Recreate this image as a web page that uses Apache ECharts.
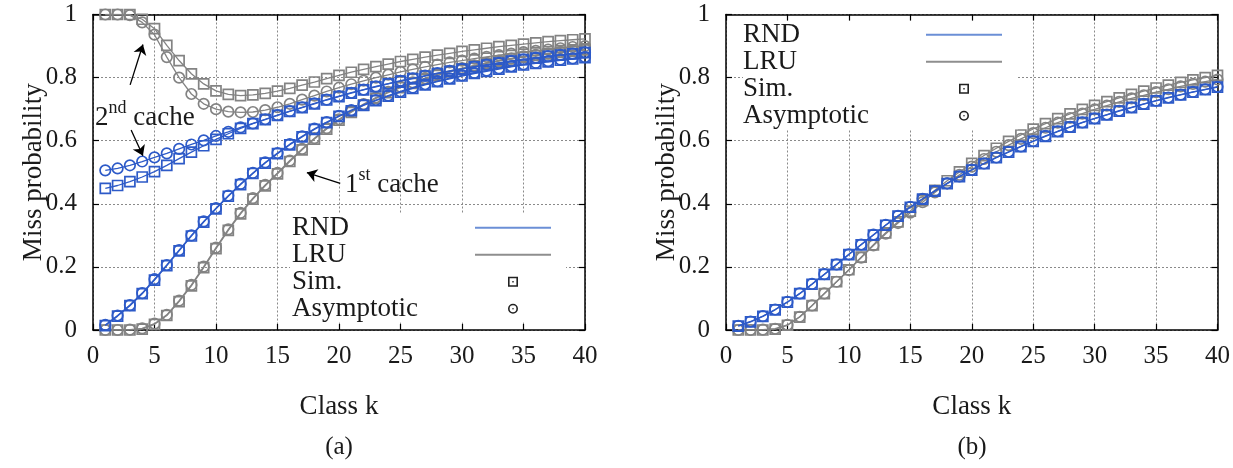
<!DOCTYPE html>
<html><head><meta charset="utf-8">
<script src="https://cdn.jsdelivr.net/npm/echarts@6/dist/echarts.min.js"></script>
<style>html,body{margin:0;padding:0;background:#fff}#c{width:1233px;height:468px}</style>
</head><body><div id="c"></div>
<script>
// ---------------- data ----------------
const classK = [1,2,3,4,5,6,7,8,9,10,11,12,13,14,15,16,17,18,19,20,21,22,23,24,25,26,27,28,29,30,31,32,33,34,35,36,37,38,39,40];
const xTickLabels = ['0','5','10','15','20','25','30','35','40'];
const yTickLabels = ['0','0.2','0.4','0.6','0.8','1'];

// Panel (a): first and second cache
const rnd1Sim  = [0.014,0.044,0.077,0.115,0.158,0.204,0.251,0.298,0.342,0.384,0.424,0.461,0.496,0.529,0.559,0.587,0.612,0.636,0.657,0.677,0.695,0.712,0.727,0.741,0.754,0.766,0.777,0.787,0.796,0.805,0.813,0.820,0.827,0.834,0.840,0.845,0.850,0.855,0.859,0.863];
const rnd1Asym = [0.016,0.046,0.079,0.117,0.161,0.206,0.253,0.300,0.344,0.386,0.426,0.463,0.498,0.531,0.561,0.589,0.614,0.638,0.659,0.679,0.697,0.714,0.729,0.743,0.756,0.768,0.779,0.789,0.798,0.807,0.815,0.822,0.829,0.836,0.842,0.847,0.852,0.857,0.861,0.865];
const lru1Sim  = [0.000,0.000,0.000,0.003,0.018,0.046,0.090,0.140,0.198,0.258,0.316,0.368,0.415,0.457,0.495,0.534,0.571,0.605,0.637,0.665,0.690,0.713,0.734,0.752,0.768,0.782,0.795,0.807,0.818,0.828,0.837,0.845,0.852,0.859,0.865,0.870,0.875,0.880,0.884,0.888];
const lru1Asym = [0.000,0.000,0.001,0.005,0.020,0.048,0.093,0.143,0.201,0.261,0.319,0.371,0.418,0.460,0.498,0.537,0.574,0.608,0.640,0.668,0.693,0.716,0.737,0.755,0.771,0.785,0.798,0.810,0.821,0.830,0.839,0.847,0.854,0.861,0.867,0.872,0.877,0.882,0.886,0.890];
const rnd2Sim  = [0.449,0.458,0.470,0.485,0.502,0.522,0.543,0.564,0.584,0.604,0.622,0.639,0.654,0.667,0.680,0.693,0.705,0.717,0.729,0.740,0.751,0.761,0.771,0.780,0.789,0.797,0.805,0.813,0.820,0.827,0.834,0.840,0.846,0.852,0.857,0.862,0.867,0.871,0.875,0.879];
const rnd2Asym = [0.506,0.512,0.522,0.534,0.547,0.560,0.574,0.588,0.601,0.615,0.628,0.642,0.655,0.668,0.681,0.694,0.706,0.718,0.730,0.741,0.752,0.762,0.772,0.781,0.790,0.798,0.806,0.814,0.821,0.828,0.835,0.841,0.847,0.853,0.858,0.863,0.868,0.872,0.876,0.880];
const lru2Sim  = [1.000,1.000,1.000,0.985,0.955,0.902,0.854,0.812,0.780,0.758,0.747,0.743,0.745,0.750,0.757,0.766,0.776,0.786,0.797,0.807,0.817,0.826,0.835,0.843,0.851,0.858,0.865,0.871,0.877,0.883,0.888,0.893,0.898,0.902,0.906,0.910,0.914,0.917,0.920,0.923];
const lru2Asym = [1.000,1.000,0.998,0.975,0.936,0.865,0.800,0.748,0.717,0.700,0.692,0.690,0.691,0.697,0.706,0.717,0.730,0.743,0.756,0.768,0.779,0.790,0.800,0.809,0.818,0.826,0.834,0.841,0.848,0.854,0.860,0.866,0.871,0.876,0.881,0.885,0.889,0.893,0.897,0.900];

// Panel (b)
const rndSimB  = [0.012,0.026,0.043,0.064,0.088,0.115,0.145,0.176,0.207,0.239,0.270,0.301,0.332,0.361,0.389,0.415,0.440,0.464,0.486,0.507,0.527,0.546,0.564,0.581,0.598,0.614,0.629,0.643,0.657,0.670,0.682,0.694,0.705,0.716,0.726,0.736,0.745,0.754,0.762,0.770];
const rndAsymB = [0.013,0.027,0.044,0.065,0.089,0.116,0.146,0.177,0.208,0.240,0.271,0.302,0.333,0.362,0.390,0.416,0.441,0.465,0.487,0.508,0.528,0.547,0.565,0.582,0.599,0.615,0.630,0.644,0.658,0.671,0.683,0.695,0.706,0.717,0.727,0.737,0.746,0.755,0.763,0.771];
const lruSimB  = [0.000,0.000,0.000,0.003,0.015,0.041,0.077,0.115,0.153,0.191,0.231,0.270,0.308,0.343,0.377,0.411,0.443,0.473,0.501,0.528,0.553,0.576,0.598,0.618,0.637,0.654,0.670,0.685,0.699,0.712,0.724,0.736,0.747,0.757,0.767,0.776,0.785,0.793,0.800,0.807];
const lruAsymB = [0.000,0.000,0.001,0.004,0.016,0.042,0.078,0.116,0.153,0.190,0.229,0.268,0.305,0.339,0.372,0.405,0.436,0.465,0.492,0.518,0.542,0.565,0.586,0.606,0.624,0.641,0.657,0.672,0.686,0.699,0.711,0.723,0.734,0.744,0.754,0.763,0.772,0.780,0.787,0.794];

const legendNames = ['RND','LRU','Sim.','Asymptotic'];
// annotation arrows (data coords, panel a): [tail, head]
const arrows = [
  [[3.02,0.777],[4.06,0.905]],
  [[3.10,0.634],[4.06,0.552]],
  [[20.1,0.465],[17.39,0.499]]
];

// ---------------- style ----------------
const FONT = 'Liberation Serif';
const FS = 27;      // names, legend, annotations
const FS_TICK = 25; // tick labels
const BLUE = '#2d5ac8';
const GRAY = '#838383';
const BLUE_LEG = '#6b8fd6';
const GRAY_LEG = '#8e8e8e';
const TXT = '#1a1a1a';

const zip = arr => classK.map((k,i)=>[k, arr[i]]);

function mkSeries(name, arr, color, kind, gi, z){
  return {
    name: name, type:'line', data: zip(arr),
    xAxisIndex: gi*2, yAxisIndex: gi*2,
    symbol: kind==='sim' ? 'rect' : 'circle',
    symbolSize: kind==='sim' ? 10 : 10.5,
    showAllSymbol: true,
    itemStyle: {color:'rgba(0,0,0,0)', borderColor: color, borderWidth: 1.7},
    lineStyle: {color: color, width: 1.3},
    emphasis: {disabled:true},
    silent: true, z: z, animation:false
  };
}

function xAxes(gi){
  const base = {gridIndex: gi, type:'value', min:0, max:40, interval:5};
  return [
    Object.assign({}, base, {
      position:'bottom',
      axisLine:{show:true, onZero:false, lineStyle:{color:'#000', width:1.5}},
      axisTick:{show:true, inside:true, length:6, lineStyle:{color:'#000', width:1.2}},
      axisLabel:{show:true, margin:14, fontFamily:FONT, fontSize:FS_TICK, color:TXT,
        formatter: v => xTickLabels[Math.round(v/5)]},
      splitLine:{show:true, lineStyle:{color:'#8a8a8a', width:1, type:[2,2]}},
      name:'Class k', nameLocation:'middle', nameGap:63, nameMoveOverlap:false,
      nameTextStyle:{fontFamily:FONT, fontSize:FS, color:TXT}
    }),
    Object.assign({}, base, {
      position:'top',
      axisLine:{show:true, onZero:false, lineStyle:{color:'#000', width:1.5}},
      axisTick:{show:true, inside:true, length:6, lineStyle:{color:'#000', width:1.2}},
      axisLabel:{show:false}, splitLine:{show:false}
    })
  ];
}
function yAxes(gi){
  const base = {gridIndex: gi, type:'value', min:0, max:1, interval:0.2};
  return [
    Object.assign({}, base, {
      position:'left',
      axisLine:{show:true, onZero:false, lineStyle:{color:'#000', width:1.5}},
      axisTick:{show:true, inside:true, length:6, lineStyle:{color:'#000', width:1.2}},
      axisLabel:{show:true, margin:16, fontFamily:FONT, fontSize:FS_TICK, color:TXT,
        formatter: v => yTickLabels[Math.round(v*5)]},
      splitLine:{show:true, lineStyle:{color:'#8a8a8a', width:1, type:[2,2]}},
      name:'Miss probability', nameLocation:'middle', nameGap:46, nameMoveOverlap:false,
      nameTextStyle:{fontFamily:FONT, fontSize:FS, color:TXT}
    }),
    Object.assign({}, base, {
      position:'right',
      axisLine:{show:true, onZero:false, lineStyle:{color:'#000', width:1.5}},
      axisTick:{show:true, inside:true, length:6, lineStyle:{color:'#000', width:1.2}},
      axisLabel:{show:false}, splitLine:{show:false}
    })
  ];
}

const squareIcon = 'path://M0,0H10V10H0Z M1.6,1.6V8.4H8.4V1.6Z M4.3,4.3H5.7V5.7H4.3Z';
const circleIcon = 'path://M5,0A5,5 0 1,1 5,10A5,5 0 1,1 5,0Z M5,1.6A3.4,3.4 0 1,0 5,8.4A3.4,3.4 0 1,0 5,1.6Z M5,4.2A0.8,0.8 0 1,1 5,5.8A0.8,0.8 0 1,1 5,4.2Z';
const legendIcons = {
  'RND': {icon:'path://M0,0H76V2.2H0Z', color: BLUE_LEG},
  'LRU': {icon:'path://M0,0H76V1.8H0Z', color: GRAY_LEG},
  'Sim.': {icon: squareIcon, color:'#222'},
  'Asymptotic': {icon: circleIcon, color:'#222'}
};
function mkLegend(left, top, padding){
  return {
    orient:'vertical', align:'right', left:left, top:top, padding:padding,
    itemGap:0, itemWidth:76, itemHeight:10, selectedMode:false,
    backgroundColor:'#fff', z: 4,
    data: legendNames.map(n => ({name:n, icon: legendIcons[n].icon,
      itemStyle:{color: legendIcons[n].color, borderWidth:0}})),
    formatter: n => '{t|' + n + '}',
    textStyle:{fontFamily:FONT, fontSize:FS, color:TXT,
      rich:{t:{width:178, align:'left', fontFamily:FONT, fontSize:FS, color:TXT, lineHeight:27.5}}}
  };
}

const series = [
  mkSeries('LRU 2nd Sim.', lru2Sim, GRAY, 'sim', 0, 2),
  mkSeries('LRU 2nd Asymptotic', lru2Asym, GRAY, 'asym', 0, 2),
  mkSeries('LRU 1st Sim.', lru1Sim, GRAY, 'sim', 0, 2),
  mkSeries('LRU 1st Asymptotic', lru1Asym, GRAY, 'asym', 0, 2),
  mkSeries('RND 2nd Sim.', rnd2Sim, BLUE, 'sim', 0, 3),
  mkSeries('RND 2nd Asymptotic', rnd2Asym, BLUE, 'asym', 0, 3),
  mkSeries('RND 1st Sim.', rnd1Sim, BLUE, 'sim', 0, 3),
  mkSeries('RND 1st Asymptotic', rnd1Asym, BLUE, 'asym', 0, 3),
  mkSeries('LRU Sim. (b)', lruSimB, GRAY, 'sim', 1, 2),
  mkSeries('LRU Asymptotic (b)', lruAsymB, GRAY, 'asym', 1, 2),
  mkSeries('RND Sim. (b)', rndSimB, BLUE, 'sim', 1, 3),
  mkSeries('RND Asymptotic (b)', rndAsymB, BLUE, 'asym', 1, 3),
  // legend carriers
  {name:'RND', type:'line', data:[], xAxisIndex:0, yAxisIndex:0, color:BLUE_LEG},
  {name:'LRU', type:'line', data:[], xAxisIndex:0, yAxisIndex:0, color:GRAY_LEG},
  {name:'Sim.', type:'line', data:[], xAxisIndex:0, yAxisIndex:0, color:'#222'},
  {name:'Asymptotic', type:'line', data:[], xAxisIndex:0, yAxisIndex:0, color:'#222'},
  // annotation arrows
  {name:'arrows', type:'line', data:[], xAxisIndex:0, yAxisIndex:0, silent:true, z:6,
    markLine:{silent:true, animation:false, symbol:['none','arrow'], symbolSize:10,
      label:{show:false}, lineStyle:{color:'#000', width:1.3, type:'solid'},
      itemStyle:{color:'#000'},
      emphasis:{disabled:true},
      data: arrows.map(a => [{coord:a[0], symbol:'none'},{coord:a[1], symbol:'arrow', symbolSize:10}])}}
];

const supRich = {
  n:{fontFamily:FONT, fontSize:FS, lineHeight:32, verticalAlign:'bottom'},
  s:{fontFamily:FONT, fontSize:18, lineHeight:19, verticalAlign:'top'}
};

const chart = echarts.init(document.getElementById('c'), null, {renderer:'canvas'});
chart.setOption({
  animation:false,
  backgroundColor:'#fff',
  grid:[
    {left:93, top:14.5, width:492, height:315.5, containLabel:false},
    {left:726, top:14.5, width:492, height:315.5, containLabel:false}
  ],
  xAxis: xAxes(0).concat(xAxes(1)),
  yAxis: yAxes(0).concat(yAxes(1)),
  legend:[
    mkLegend(290, 213.25, [1,15,0,2]),
    mkLegend(743, 21.25, [0,16,0,0])
  ],
  series: series,
  graphic:[
    {type:'text', left:95, top:99, z:10, silent:true,
      style:{text:'{n|2}{s|nd}{n| cache}', fill:TXT, rich:supRich}},
    {type:'text', left:345, top:166, z:10, silent:true,
      style:{text:'{n|1}{s|st}{n| cache}', fill:TXT, rich:supRich}},
    {type:'text', x:339, y:447, silent:true,
      style:{text:'(a)', fontFamily:FONT, fontSize:25, fill:TXT, align:'center', verticalAlign:'middle'}},
    {type:'text', x:972, y:447, silent:true,
      style:{text:'(b)', fontFamily:FONT, fontSize:25, fill:TXT, align:'center', verticalAlign:'middle'}}
  ]
});
</script>
</body></html>
